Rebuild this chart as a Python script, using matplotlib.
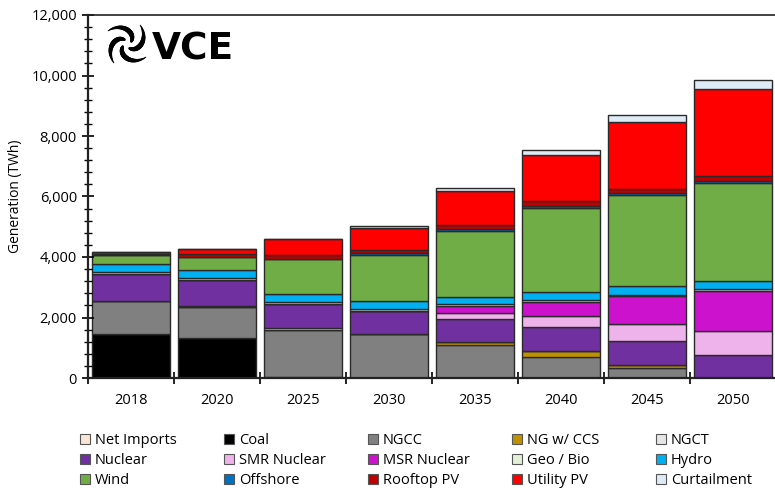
import numpy as np
import matplotlib
matplotlib.use("Agg")
import matplotlib.pyplot as plt
from matplotlib.patches import Patch
from matplotlib.collections import LineCollection
from matplotlib.ticker import MultipleLocator, FuncFormatter

plt.rcParams['font.family'] = ['Open Sans', 'DejaVu Sans']

# data (TWh)
years = ['2018', '2020', '2025', '2030', '2035', '2040', '2045', '2050']
net_imports = [0, 0, 0, 0, 0, 0, 0, 0]
coal = [1440, 1335, 30, 0, 0, 0, 0, 0]
ngcc = [1090, 1005, 1570, 1440, 1075, 680, 330, 0]
ng_ccs = [0, 0, 0, 0, 110, 200, 110, 0]
ngct = [20, 40, 50, 0, 0, 0, 0, 0]
nuclear = [880, 850, 800, 770, 775, 810, 775, 755]
smr = [0, 0, 0, 0, 175, 355, 575, 795]
msr = [0, 0, 0, 0, 240, 475, 915, 1340]
geo_bio = [60, 85, 60, 75, 55, 75, 55, 60]
hydro = [265, 250, 270, 250, 255, 255, 265, 250]
wind = [315, 430, 1150, 1530, 2170, 2775, 3020, 3230]
offshore = [0, 0, 15, 60, 75, 75, 55, 75]
rooftop = [40, 120, 115, 110, 135, 145, 155, 180]
utility = [70, 145, 530, 715, 1115, 1520, 2200, 2855]
curtailment = [0, 0, 0, 65, 100, 165, 225, 295]

series = [
    ("Net Imports", net_imports, "#FBE5D6"),
    ("Coal", coal, "#000000"),
    ("NGCC", ngcc, "#808080"),
    ("NG w/ CCS", ng_ccs, "#BF9000"),
    ("NGCT", ngct, "#E7E6E6"),
    ("Nuclear", nuclear, "#7030A0"),
    ("SMR Nuclear", smr, "#EFB3EC"),
    ("MSR Nuclear", msr, "#CC12CC"),
    ("Geo / Bio", geo_bio, "#E2F0D9"),
    ("Hydro", hydro, "#00B0F0"),
    ("Wind", wind, "#70AD47"),
    ("Offshore", offshore, "#0070C0"),
    ("Rooftop PV", rooftop, "#C00000"),
    ("Utility PV", utility, "#FF0000"),
    ("Curtailment", curtailment, "#DEEBF7"),
]

fig = plt.figure(figsize=(7.75, 4.94), dpi=100)
ax = fig.add_axes([88 / 775, 1 - 378 / 494, 688 / 775, 363 / 494])

x = np.arange(len(years))
bottom = np.zeros(len(years))
for name, vals, color in series:
    vals = np.array(vals, dtype=float)
    ax.bar(x, vals, 0.9, bottom=bottom, color=color, edgecolor="#2a2a2a",
           linewidth=1.0, label=name)
    bottom += vals

ax.set_xlim(-0.5, 7.5)
ax.set_ylim(0, 12000)
ax.yaxis.set_major_locator(MultipleLocator(2000))
ax.yaxis.set_minor_locator(MultipleLocator(400))
ax.yaxis.set_major_formatter(FuncFormatter(lambda v, p: f"{int(v):,}"))
ax.tick_params(axis='y', which='major', direction='inout', length=8, width=1.2,
               labelsize=10.5, pad=4)
ax.tick_params(axis='y', which='minor', direction='inout', length=6, width=1.0)

ax.set_xticks(x)
ax.set_xticklabels(years)
ax.set_xticks(np.arange(-0.5, 8.0, 1.0), minor=True)
ax.tick_params(axis='x', which='major', length=0, labelsize=10.5, pad=11)
ax.tick_params(axis='x', which='minor', direction='inout', length=9, width=1.2)

for s in ['left', 'bottom', 'top', 'right']:
    ax.spines[s].set_color('#222222')
ax.spines['left'].set_linewidth(1.6)
ax.spines['bottom'].set_linewidth(1.6)
ax.spines['top'].set_linewidth(1.2)

ax.set_ylabel("Generation (TWh)", fontsize=10, labelpad=6)

# logo: swirl + VCE
fig.text(152 / 775, 1 - 59 / 494, "VCE", fontsize=27, fontweight='bold',
         family='DejaVu Sans', va='baseline', ha='left', color='black')
cx, cy = 1.27, 4.50
for k in range(4):
    a0 = np.deg2rad(90 * k + 30)
    t = np.linspace(0, 1, 30)
    ang = a0 + t * np.deg2rad(115)
    r = (5 + 18 * t) / 100
    px = cx + r * np.cos(ang)
    py = cy + r * np.sin(ang)
    pts = np.column_stack([px, py]).reshape(-1, 1, 2)
    segs = np.concatenate([pts[:-1], pts[1:]], axis=1)
    widths = 3.2 * np.sin(np.pi * (0.15 + 0.85 * t[:-1])) + 0.4
    lc = LineCollection(segs, linewidths=widths, colors='black',
                        capstyle='round', transform=fig.dpi_scale_trans)
    fig.add_artist(lc)

# legend, five columns of three rows like the original
handles = [Patch(facecolor=c, edgecolor="#555555", linewidth=0.8, label=n)
           for n, v, c in series]
col_x = [70, 214, 358, 502, 646]
for i, cxp in enumerate(col_x):
    hs = [handles[i], handles[i + 5], handles[i + 10]]
    fig.legend(handles=hs, loc='upper left',
               bbox_to_anchor=(cxp / 775, 1 - 423 / 494), frameon=False,
               fontsize=10.5, handlelength=0.7, handleheight=0.7,
               handletextpad=0.3, labelspacing=0.33, borderpad=0.2)

fig.savefig("out.png", dpi=100)
